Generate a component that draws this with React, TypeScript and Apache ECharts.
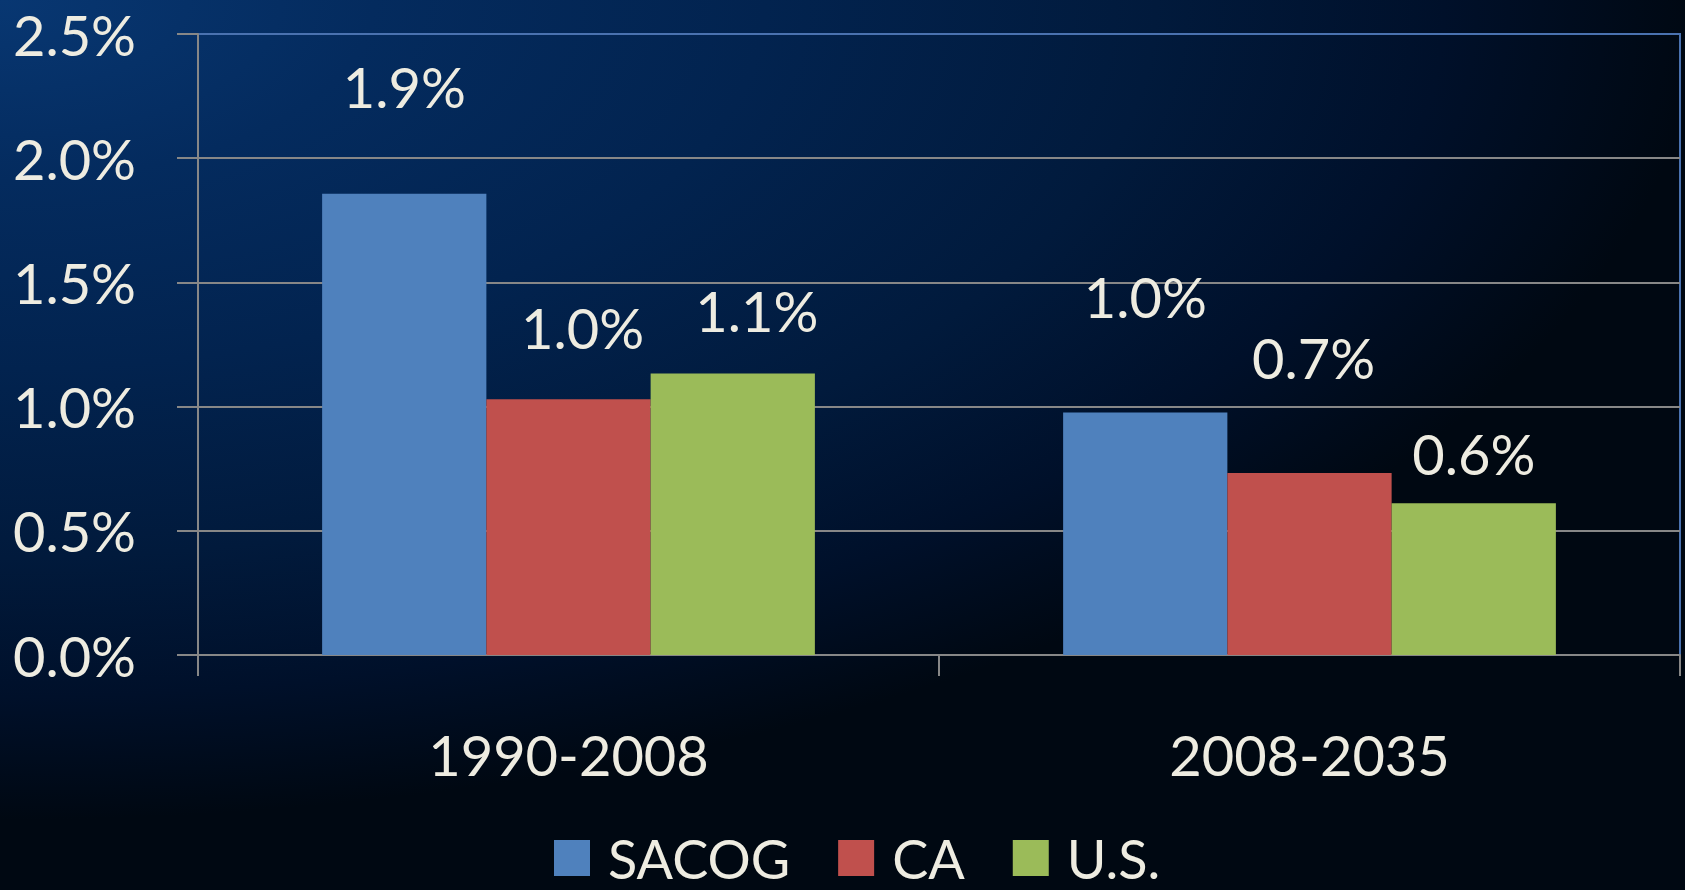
import React, { useEffect, useRef } from "react";
import * as echarts from "echarts";

const CATEGORIES = ["1990-2008", "2008-2035"];
const SERIES_NAMES = ["SACOG", "CA", "U.S."];
const SACOG = [1.857, 0.976];
const CA = [1.03, 0.733];
const US = [1.133, 0.611];
const Y_MIN = 0;
const Y_MAX = 2.5;
const Y_STEP = 0.5;

// label nudges (style only): [dx, dy] relative to the bar top
const SACOG_LABEL_NUDGE = [[0, -79], [0, -88]];
const CA_LABEL_NUDGE = [[14, -44], [4, -87]];
const US_LABEL_NUDGE = [[24, -35], [0, -22]];

const COLORS = ["#4F81BD", "#C0504D", "#9BBB59"];
const TEXT = "#EEECE1";
const FONT = "Lato, 'Open Sans', sans-serif";
const GRIDLINE = "#878787";

export default function App() {
  const ref = useRef<HTMLDivElement>(null);
  useEffect(() => {
    if (!ref.current) return;
    const chart = echarts.init(ref.current, undefined, { renderer: "svg" });
    const build = (vals: number[], nudges: number[][]) =>
      vals.map((v, i) => ({ value: v, label: { offset: nudges[i] } }));
    const seriesData = [
      build(SACOG, SACOG_LABEL_NUDGE),
      build(CA, CA_LABEL_NUDGE),
      build(US, US_LABEL_NUDGE),
    ];
    chart.setOption({
      animation: false,
      backgroundColor: "transparent",
      textStyle: { fontFamily: FONT },
      grid: {
        left: 198,
        right: 5,
        top: 34,
        bottom: 235,
        show: true,
        borderColor: "#4a72b0",
        borderWidth: 2,
        backgroundColor: "transparent",
      },
      legend: {
        left: 554,
        top: 831,
        padding: 0,
        icon: "rect",
        itemWidth: 36,
        itemHeight: 36,
        itemGap: 48,
        data: SERIES_NAMES,
        textStyle: {
          color: TEXT,
          fontSize: 54,
          lineHeight: 54,
          fontFamily: FONT,
          padding: [0, 0, 0, 13],
        },
      },
      xAxis: {
        type: "category",
        data: CATEGORIES,
        axisLine: { show: true, lineStyle: { color: GRIDLINE, width: 2 } },
        axisTick: { show: true, length: 21, lineStyle: { color: GRIDLINE, width: 2 } },
        axisLabel: { color: TEXT, fontSize: 56, fontFamily: FONT, margin: 71, lineHeight: 56 },
        splitLine: { show: false },
      },
      yAxis: {
        type: "value",
        min: Y_MIN,
        max: Y_MAX,
        interval: Y_STEP,
        axisLine: { show: true, lineStyle: { color: GRIDLINE, width: 2 } },
        axisTick: { show: true, length: 21, lineStyle: { color: GRIDLINE, width: 2 } },
        axisLabel: {
          color: TEXT,
          fontSize: 56,
          fontFamily: FONT,
          margin: 62,
          formatter: (v: number) => v.toFixed(1) + "%",
        },
        splitLine: {
          show: true,
          lineStyle: {
            color: [GRIDLINE, GRIDLINE, GRIDLINE, GRIDLINE, GRIDLINE, "#4a72b0"],
            width: 2,
          },
        },
      },
      series: SERIES_NAMES.map((name, i) => ({
        name,
        type: "bar",
        data: seriesData[i],
        barGap: "0%",
        barCategoryGap: "33.5%",
        itemStyle: { color: COLORS[i] },
        label: {
          show: true,
          position: "top",
          distance: 0,
          color: TEXT,
          fontSize: 56,
          lineHeight: 56,
          fontFamily: FONT,
          formatter: (p: any) => Number(p.value).toFixed(1) + "%",
        },
      })),
    });
    return () => chart.dispose();
  }, []);
  return (
    <div
      ref={ref}
      style={{
        position: "fixed",
        left: 0,
        top: 0,
        width: 1685,
        height: 890,
        background:
          "radial-gradient(ellipse 1700px 820px at 0px 0px, #083772 0%, #042b5e 22%, #02234f 45%, #011a3c 68%, #00102a 85%, #000812 100%)",
      }}
    />
  );
}
